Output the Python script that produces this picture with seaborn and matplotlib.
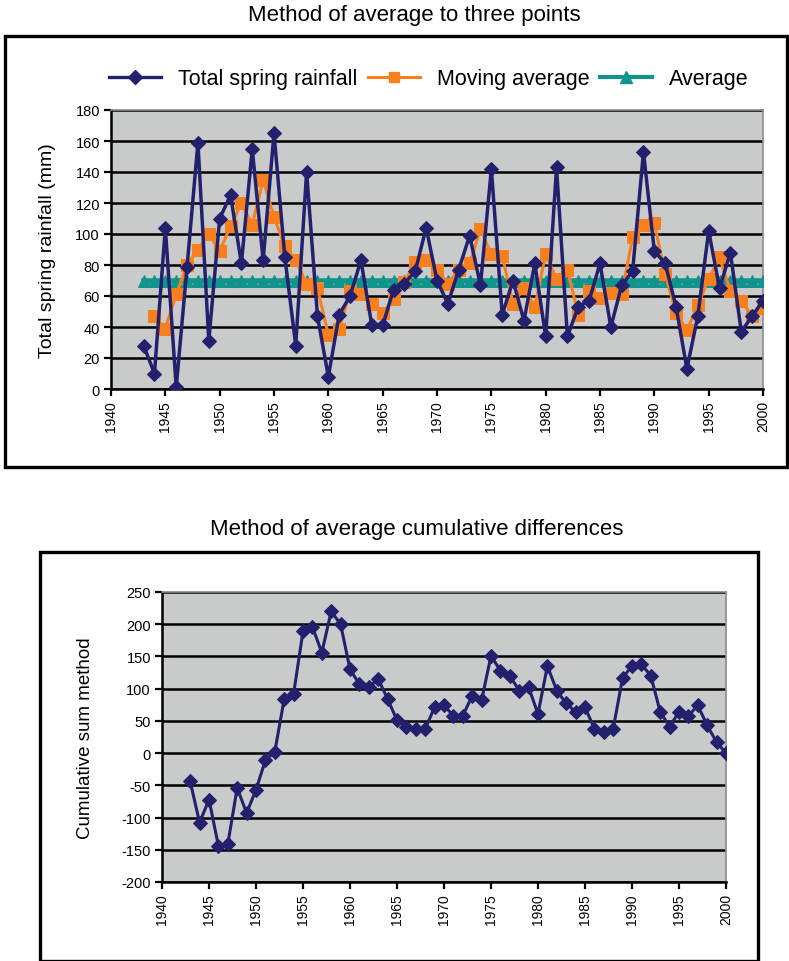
import matplotlib
matplotlib.use("Agg")
import matplotlib.pyplot as plt
import seaborn as sns
import pandas as pd
from matplotlib.patches import Rectangle
from matplotlib.lines import Line2D
from matplotlib import font_manager

# ---------------- data ----------------
years = list(range(1943, 2001))
rainfall = [28, 10, 104, 1, 79, 159, 31, 110, 125, 81,
            155, 83, 165, 85, 28, 140, 47, 8, 48, 60,
            83, 41, 41, 64, 68, 76, 104, 70, 55, 77,
            99, 67, 142, 48, 70, 44, 81, 34, 143, 34,
            53, 57, 81, 40, 67, 76, 153, 89, 81, 53,
            13, 47, 102, 65, 88, 37, 47, 57]
ma_years = list(range(1944, 2001))
moving_avg = [47, 39, 61, 80, 90, 100, 89, 105, 120, 106,
              135, 111, 92, 83, 68, 65, 35, 39, 63, 61,
              55, 49, 58, 69, 82, 83, 77, 68, 77, 81,
              103, 87, 86, 55, 65, 53, 87, 71, 77, 48,
              63, 59, 62, 61, 98, 106, 107, 74, 49, 38,
              54, 71, 85, 63, 57, 47, 52]
average_value = [70] * len(years)
cusum = [-44, -108, -72, -144, -141, -54, -93, -57, -11, 2,
         84, 92, 189, 196, 156, 220, 200, 130, 107, 102,
         115, 84, 51, 40, 38, 38, 71, 74, 58, 58,
         89, 82, 151, 128, 120, 97, 102, 61, 135, 97,
         77, 64, 71, 38, 33, 38, 117, 135, 138, 120,
         64, 41, 64, 58, 74, 43, 17, 0]

xticks = list(range(1940, 2001, 5))
top_yticks = list(range(0, 181, 20))
bot_yticks = list(range(-200, 251, 50))

# ---------------- style ----------------
plt.rcParams['font.family'] = ['Liberation Sans', 'DejaVu Sans']
installed = {f.name for f in font_manager.fontManager.ttflist}
if 'Liberation Sans Narrow' in installed:
    TITLE_FONT = ['Liberation Sans Narrow', 'DejaVu Sans']
    TITLE_SIZE = 17
else:
    TITLE_FONT = ['Liberation Sans', 'DejaVu Sans']
    TITLE_SIZE = 16

NAVY = '#23206E'
ORANGE = '#F77F1E'
TEAL = '#10948C'
BG = '#C9CBCB'

W, H = 789, 962
fig = plt.figure(figsize=(W / 100, H / 100), dpi=100)


def fx(px):
    return px / W


def fy(py):
    return 1 - py / H


def style_axes(ax, yticks):
    ax.set_facecolor(BG)
    ax.set_xlim(1940, 2000)
    ax.set_xticks(xticks)
    ax.set_xticklabels([str(t) for t in xticks], rotation=90, fontsize=10)
    ax.set_yticks(yticks)
    ax.set_yticklabels([str(t) for t in yticks], fontsize=10.5)
    ax.set_ylim(yticks[0], yticks[-1])
    ax.yaxis.grid(True, color='black', linewidth=1.8)
    ax.xaxis.grid(False)
    ax.set_axisbelow(True)
    for s in ['top', 'right']:
        ax.spines[s].set_color('#8C8C8C')
        ax.spines[s].set_linewidth(1.2)
    for s in ['left', 'bottom']:
        ax.spines[s].set_color('black')
        ax.spines[s].set_linewidth(1.8)
    ax.tick_params(axis='both', direction='out', length=5, width=1.6, color='black', pad=3)
    ax.set_xlabel('')


# ---------------- frames and titles ----------------
fig.patches.append(Rectangle((fx(5), fy(468)), fx(782), (468 - 37) / H,
                             transform=fig.transFigure, fill=False, edgecolor='black', linewidth=2.4))
fig.patches.append(Rectangle((fx(40), fy(962)), fx(718), (962 - 553) / H,
                             transform=fig.transFigure, fill=False, edgecolor='black', linewidth=2.4))

fig.text(fx(414), fy(16), 'Method of average to three points', ha='center', va='center',
         fontsize=TITLE_SIZE, family=TITLE_FONT)
fig.text(fx(417), fy(529), 'Method of average cumulative differences', ha='center', va='center',
         fontsize=TITLE_SIZE, family=TITLE_FONT)

# ---------------- top panel ----------------
ax1 = fig.add_axes([fx(111), fy(390), fx(763) - fx(111), (390 - 111) / H])
df_rain = pd.DataFrame({'year': years, 'value': rainfall})
df_ma = pd.DataFrame({'year': ma_years, 'value': moving_avg})
df_avg = pd.DataFrame({'year': years, 'value': average_value})

sns.lineplot(data=df_avg, x='year', y='value', ax=ax1, color=TEAL, linewidth=4.0,
             marker='^', markersize=8.5, markeredgecolor=TEAL, zorder=3)
sns.lineplot(data=df_ma, x='year', y='value', ax=ax1, color=ORANGE, linewidth=2.2,
             marker='s', markersize=8, markeredgecolor=ORANGE, zorder=4)
sns.lineplot(data=df_rain, x='year', y='value', ax=ax1, color=NAVY, linewidth=2.5,
             marker='D', markersize=7.5, markeredgecolor=NAVY, zorder=5)
style_axes(ax1, top_yticks)
ax1.set_ylabel('Total spring rainfall (mm)', fontsize=14, labelpad=14)

handles = [Line2D([], [], color=NAVY, marker='D', markersize=7, linewidth=2.4),
           Line2D([], [], color=ORANGE, marker='s', markersize=7, linewidth=2.2),
           Line2D([], [], color=TEAL, marker='^', markersize=8, linewidth=3.0)]
fig.legend(handles, ['Total spring rainfall', 'Moving average', 'Average'],
           loc='center', bbox_to_anchor=(fx(429), fy(80)), ncol=3, frameon=False,
           fontsize=15.5, handlelength=2.4, columnspacing=0.5, handletextpad=0.8)

# ---------------- bottom panel ----------------
ax2 = fig.add_axes([fx(162), fy(883), fx(726) - fx(162), (883 - 593) / H])
df_cs = pd.DataFrame({'year': years, 'value': cusum})
sns.lineplot(data=df_cs, x='year', y='value', ax=ax2, color=NAVY, linewidth=2.2,
             marker='D', markersize=7.5, markeredgecolor=NAVY, zorder=5)
style_axes(ax2, bot_yticks)
ax2.set_ylabel('Cumulative sum method', fontsize=13.5, labelpad=20)

fig.savefig('out.png', dpi=100)
